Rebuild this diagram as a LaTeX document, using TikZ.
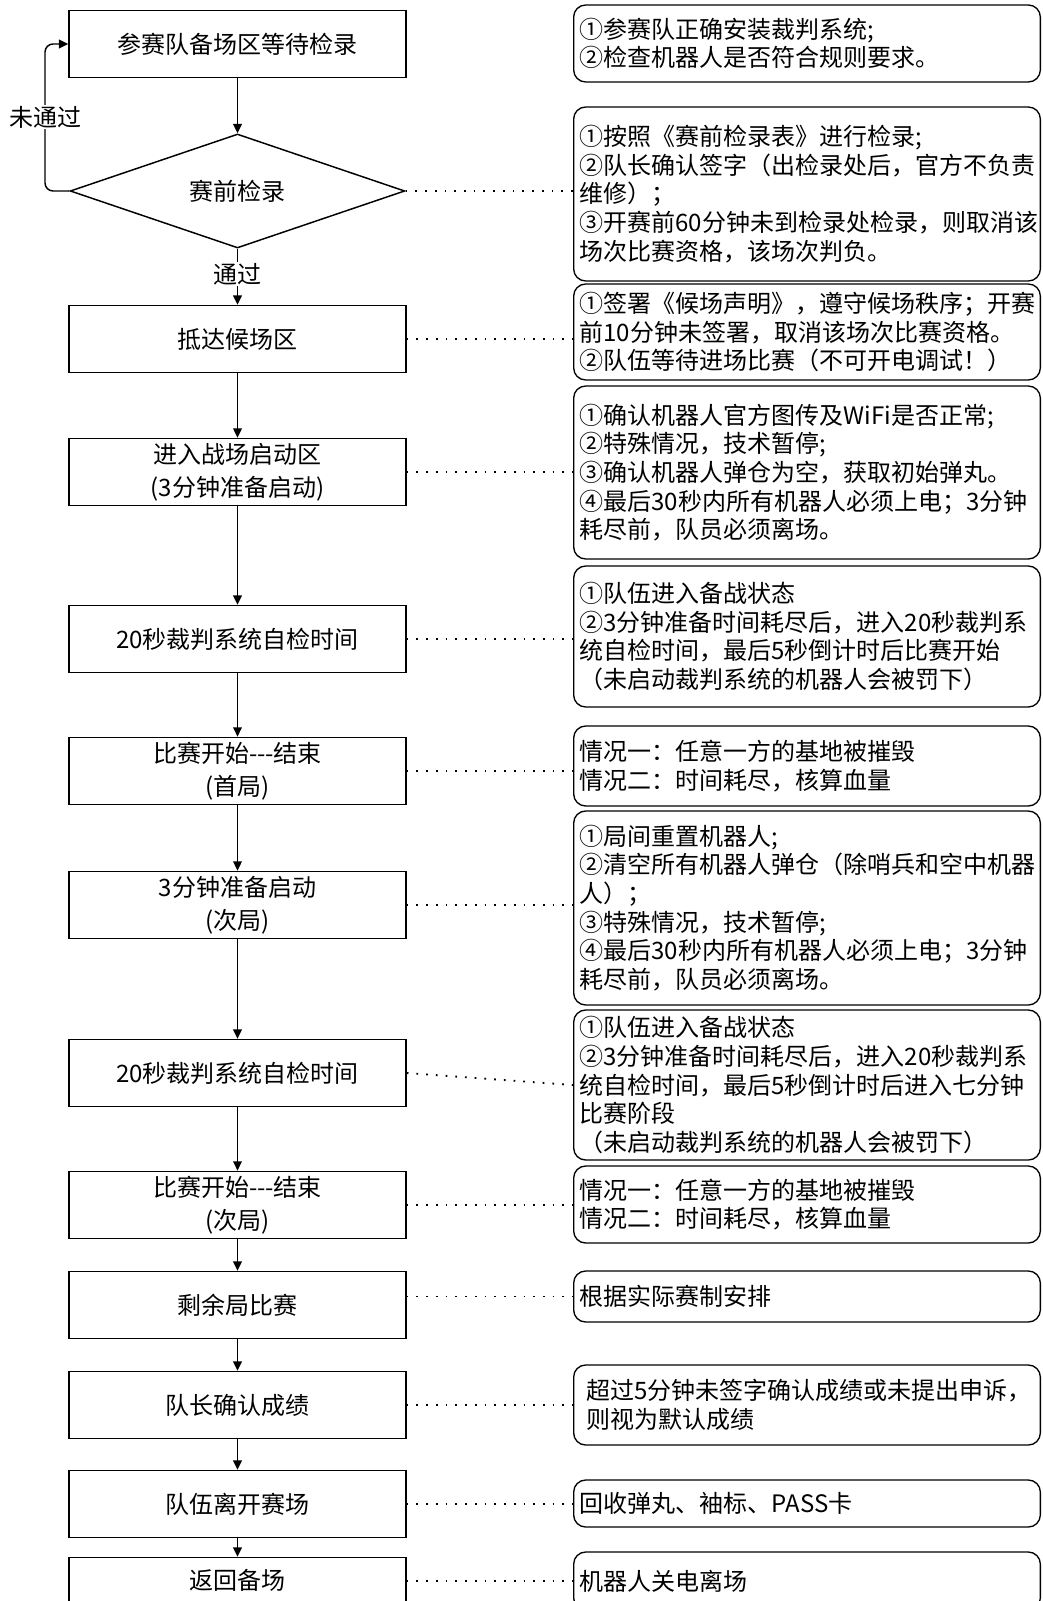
\documentclass[tikz,border=0pt]{standalone}
\usepackage{fontspec}
\setmainfont{Noto Sans CJK SC}
\usetikzlibrary{arrows.meta, shapes.geometric}

\tikzset{
  stage/.style={draw, line width=1.1pt, minimum width=252.75pt, minimum height=50.25pt,
    align=center, font=\fontsize{18pt}{25pt}\selectfont},
  note/.style={draw, line width=1pt, rounded corners=9pt, anchor=west, minimum width=350pt,
    text width=341pt, inner xsep=4.5pt, inner ysep=1pt, align=left,
    font=\fontsize{18pt}{21.5pt}\selectfont},
  flow/.style={line width=1.1pt, -{Triangle[length=7pt,width=6.5pt]}},
  link/.style={line width=1.4pt, dash pattern=on 1.3pt off 6pt},
  tag/.style={fill=white, inner sep=1pt, font=\fontsize{18pt}{21pt}\selectfont},
}

\begin{document}
\begin{tikzpicture}[x=0.75pt, y=-0.75pt]
  \clip (0, 0) rectangle (1042, 1601);

  % left column
  \node[stage] (prep) at (237.5, 44) {参赛队备场区等待检录};
  \node[draw, diamond, shape aspect=3, line width=1.1pt, minimum width=251pt,
    minimum height=85.5pt, inner sep=0pt, font=\fontsize{18pt}{21pt}\selectfont]
    (check) at (237.5, 191) {赛前检录};
  \node[stage] (hold) at (237.5, 339) {抵达候场区};
  \node[stage] (enter) at (237.5, 472) {进入战场启动区\\(3分钟准备启动)};
  \node[stage] (selfA) at (237.5, 639) {20秒裁判系统自检时间};
  \node[stage] (roundA) at (237.5, 771) {比赛开始-{}-{}-结束\\(首局)};
  \node[stage] (setupB) at (237.5, 905) {3分钟准备启动\\(次局)};
  \node[stage] (selfB) at (237.5, 1073) {20秒裁判系统自检时间};
  \node[stage] (roundB) at (237.5, 1205) {比赛开始-{}-{}-结束\\(次局)};
  \node[stage] (rest) at (237.5, 1305) {剩余局比赛};
  \node[stage] (confirm) at (237.5, 1405) {队长确认成绩};
  \node[stage] (leave) at (237.5, 1504) {队伍离开赛场};
  \node[stage, text depth=17pt] (back) at (237.5, 1591) {返回备场};

  % right column
  \node[note, minimum height=57.75pt] (prepnote) at (573, 43.5)
    {①参赛队正确安装裁判系统;\\②检查机器人是否符合规则要求。};
  \node[note, minimum height=130.5pt] (checknote) at (573, 194)
    {①按照《赛前检录表》进行检录;\\②队长确认签字（出检录处后，官方不负责\\维修）；\\③开赛前60分钟未到检录处检录，则取消该\\场次比赛资格，该场次判负。};
  \node[note, minimum height=72pt] (holdnote) at (573, 332)
    {①签署《候场声明》，遵守候场秩序；开赛\\前10分钟未签署，取消该场次比赛资格。\\②队伍等待进场比赛（不可开电调试！）};
  \node[note, minimum height=129.75pt] (enternote) at (573, 472.5)
    {①确认机器人官方图传及WiFi是否正常;\\②特殊情况，技术暂停;\\③确认机器人弹仓为空，获取初始弹丸。\\④最后30秒内所有机器人必须上电；3分钟\\耗尽前，队员必须离场。};
  \node[note, minimum height=105.75pt] (selfAnote) at (573, 636.5)
    {①队伍进入备战状态\\②3分钟准备时间耗尽后，进入20秒裁判系\\统自检时间，最后5秒倒计时后比赛开始\\（未启动裁判系统的机器人会被罚下）};
  \node[note, minimum height=60pt] (roundAnote) at (573, 766)
    {情况一：任意一方的基地被摧毁\\情况二：时间耗尽，核算血量};
  \node[note, minimum height=145.5pt] (setupBnote) at (573, 908)
    {①局间重置机器人;\\②清空所有机器人弹仓（除哨兵和空中机器\\人）；\\③特殊情况，技术暂停;\\④最后30秒内所有机器人必须上电；3分钟\\耗尽前，队员必须离场。};
  \node[note, minimum height=112.5pt] (selfBnote) at (573, 1085)
    {①队伍进入备战状态\\②3分钟准备时间耗尽后，进入20秒裁判系\\统自检时间，最后5秒倒计时后进入七分钟\\比赛阶段\\（未启动裁判系统的机器人会被罚下）};
  \node[note, minimum height=57.75pt] (roundBnote) at (573, 1204.5)
    {情况一：任意一方的基地被摧毁\\情况二：时间耗尽，核算血量};
  \node[note, minimum height=38.25pt] (restnote) at (573, 1296.5) {根据实际赛制安排};
  \node[note, minimum height=60pt] (confirmnote) at (573, 1405)
    {\hspace*{5pt}超过5分钟未签字确认成绩或未提出申诉，\\\hspace*{5pt}则视为默认成绩};
  \node[note, minimum height=35.25pt] (leavenote) at (573, 1503.5) {回收弹丸、袖标、PASS卡};
  \node[note, minimum height=43.5pt] (backnote) at (573, 1581) {机器人关电离场};

  % flow
  \draw[flow] (prep) -- (check);
  \draw[flow] (check) -- (hold) node[tag, pos=0.45] (pass) {通过};
  \coordinate (loop) at (45, 44);
  \draw[flow, rounded corners=6pt] (check.west) -| (loop) -- (prep.west);
  \node[tag] (fail) at (45, 117) {未通过};
  \draw[flow] (hold) -- (enter);
  \draw[flow] (enter) -- (selfA);
  \draw[flow] (selfA) -- (roundA);
  \draw[flow] (roundA) -- (setupB);
  \draw[flow] (setupB) -- (selfB);
  \draw[flow] (selfB) -- (roundB);
  \draw[flow] (roundB) -- (rest);
  \draw[flow] (rest) -- (confirm);
  \draw[flow] (confirm) -- (leave);
  \draw[flow] (leave) -- (back);

  % dotted links
  \draw[link] (check.east) -- (check.east -| checknote.west);
  \draw[link] (hold.east) -- (hold.east -| holdnote.west);
  \draw[link] (enter.east) -- (enter.east -| enternote.west);
  \draw[link] (selfA.east) -- (selfA.east -| selfAnote.west);
  \draw[link] (roundA.east) -- (roundA.east -| roundAnote.west);
  \draw[link] (setupB.east) -- (setupB.east -| setupBnote.west);
  \draw[link] (selfB.east) -- (selfBnote.west);
  \draw[link] (roundB.east) -- (roundB.east -| roundBnote.west);
  \draw[link] (restnote.west -| rest.east) -- (restnote.west);
  \draw[link] (confirm.east) -- (confirm.east -| confirmnote.west);
  \draw[link] (leave.east) -- (leave.east -| leavenote.west);
  \draw[link] (backnote.west -| back.east) -- (backnote.west);
\end{tikzpicture}
\end{document}
